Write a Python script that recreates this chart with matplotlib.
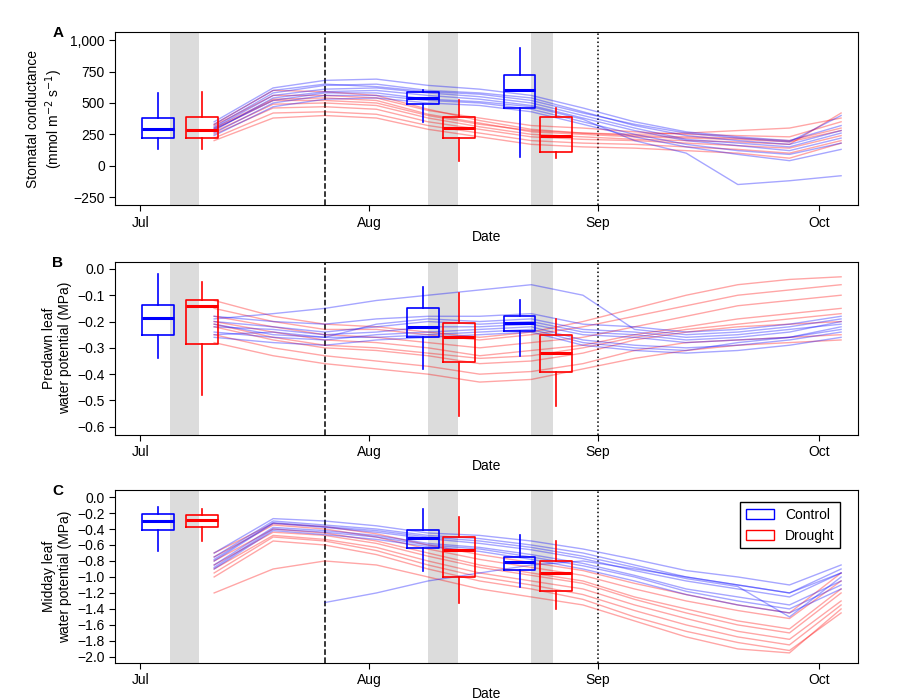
import numpy as np
import matplotlib
matplotlib.use("Agg")
import matplotlib.pyplot as plt
from matplotlib.patches import Patch

plt.rcParams['font.family'] = 'Liberation Sans'
plt.rcParams['font.size'] = 10

# days counted from Jul 1
days = [10, 18, 25, 32, 39, 46, 53, 60, 67, 74, 81, 88, 95]
month_ticks = [0, 31, 62, 92]
month_labels = ['Jul', 'Aug', 'Sep', 'Oct']
bands = [(4, 8), (39, 43), (53, 56)]
dashed_day = 25
dotted_day = 62
box_days_ctrl = [2.4, 38.3, 51.4]
box_days_drt = [8.4, 43.2, 56.3]

gs_ctrl = [
    [310, 580, 640, 650, 600, 580, 540, 430, 320, 240, 200, 170, 280],
    [280, 540, 590, 600, 560, 530, 480, 380, 280, 200, 160, 120, 220],
    [350, 620, 680, 690, 640, 610, 560, 460, 350, 270, 230, 200, 320],
    [260, 500, 560, 560, 520, 500, 450, 350, 250, 170, 120, 90, 180],
    [330, 600, 650, 630, 590, 570, 520, 420, 330, 260, 220, 190, 400],
    [240, 470, 530, 540, 500, 480, 430, 330, 230, 150, 90, 40, 130],
    [300, 560, 610, 620, 580, 550, 500, 400, 300, 210, 180, 150, 260],
    [290, 520, 580, 580, 530, 510, 470, 370, 200, 100, -150, -120, -80],
]
gs_drt = [
    [290, 520, 520, 500, 400, 330, 280, 260, 240, 230, 220, 200, 300],
    [250, 460, 470, 450, 350, 290, 230, 210, 200, 180, 160, 140, 240],
    [320, 560, 560, 540, 440, 380, 320, 300, 270, 250, 240, 230, 350],
    [220, 420, 430, 410, 320, 260, 200, 180, 170, 150, 130, 100, 200],
    [300, 530, 540, 520, 410, 340, 270, 250, 230, 220, 210, 190, 280],
    [200, 380, 400, 380, 290, 230, 170, 150, 140, 120, 100, 60, 180],
    [270, 490, 500, 480, 380, 310, 250, 230, 210, 200, 190, 170, 420],
    [330, 600, 590, 560, 450, 360, 290, 260, 250, 260, 280, 300, 380],
]
pd_ctrl = [
    [-0.20, -0.22, -0.24, -0.22, -0.20, -0.21, -0.20, -0.24, -0.25, -0.27, -0.26, -0.24, -0.20],
    [-0.24, -0.26, -0.27, -0.25, -0.24, -0.23, -0.22, -0.27, -0.29, -0.30, -0.29, -0.27, -0.24],
    [-0.18, -0.20, -0.21, -0.19, -0.18, -0.18, -0.17, -0.21, -0.22, -0.24, -0.23, -0.21, -0.18],
    [-0.26, -0.28, -0.29, -0.27, -0.26, -0.25, -0.24, -0.29, -0.31, -0.32, -0.31, -0.29, -0.26],
    [-0.22, -0.23, -0.25, -0.24, -0.22, -0.22, -0.21, -0.25, -0.26, -0.28, -0.27, -0.26, -0.22],
    [-0.21, -0.25, -0.26, -0.21, -0.19, -0.20, -0.19, -0.23, -0.24, -0.26, -0.25, -0.23, -0.21],
    [-0.25, -0.24, -0.26, -0.26, -0.25, -0.24, -0.23, -0.28, -0.30, -0.31, -0.28, -0.26, -0.23],
    [-0.19, -0.17, -0.15, -0.12, -0.10, -0.08, -0.06, -0.10, -0.23, -0.25, -0.24, -0.22, -0.19],
]
pd_drt = [
    [-0.18, -0.22, -0.25, -0.26, -0.28, -0.30, -0.28, -0.26, -0.22, -0.18, -0.14, -0.12, -0.10],
    [-0.22, -0.27, -0.30, -0.31, -0.33, -0.36, -0.35, -0.32, -0.27, -0.24, -0.22, -0.21, -0.20],
    [-0.15, -0.20, -0.23, -0.23, -0.25, -0.27, -0.25, -0.22, -0.18, -0.14, -0.10, -0.08, -0.06],
    [-0.25, -0.30, -0.33, -0.35, -0.37, -0.40, -0.39, -0.36, -0.31, -0.28, -0.27, -0.26, -0.25],
    [-0.20, -0.24, -0.27, -0.28, -0.30, -0.33, -0.31, -0.29, -0.25, -0.22, -0.19, -0.17, -0.15],
    [-0.28, -0.33, -0.36, -0.38, -0.40, -0.43, -0.42, -0.38, -0.34, -0.31, -0.29, -0.28, -0.27],
    [-0.12, -0.18, -0.21, -0.22, -0.24, -0.26, -0.24, -0.20, -0.15, -0.10, -0.06, -0.04, -0.03],
    [-0.21, -0.26, -0.29, -0.30, -0.32, -0.34, -0.33, -0.30, -0.26, -0.23, -0.21, -0.19, -0.17],
]
md_ctrl = [
    [-0.75, -0.30, -0.35, -0.40, -0.48, -0.52, -0.60, -0.70, -0.85, -1.00, -1.10, -1.20, -0.90],
    [-0.85, -0.38, -0.42, -0.48, -0.58, -0.63, -0.72, -0.83, -0.98, -1.15, -1.25, -1.35, -1.05],
    [-0.70, -0.27, -0.30, -0.36, -0.45, -0.48, -0.55, -0.65, -0.78, -0.92, -1.00, -1.10, -0.85],
    [-0.90, -0.42, -0.47, -0.53, -0.62, -0.68, -0.78, -0.90, -1.05, -1.22, -1.35, -1.45, -1.15],
    [-0.80, -0.33, -0.38, -0.44, -0.52, -0.58, -0.66, -0.77, -0.92, -1.05, -1.15, -1.25, -0.95],
    [-0.78, -0.32, -0.37, -0.42, -0.50, -0.55, -0.63, -0.74, -0.88, -1.02, -1.12, -1.50, -1.00],
    [-0.88, -0.40, -0.44, -0.50, -0.60, -0.65, -0.75, -0.86, -1.00, -1.18, -1.30, -1.40, -1.10],
    [np.nan, np.nan, -1.32, -1.20, -1.05, -0.95, -0.85, -0.80, -0.90, -1.00, -1.10, -1.20, -0.95],
]
md_drt = [
    [-0.80, -0.40, -0.45, -0.55, -0.70, -0.85, -0.95, -1.05, -1.25, -1.40, -1.55, -1.65, -1.15],
    [-0.90, -0.48, -0.53, -0.63, -0.80, -0.95, -1.05, -1.15, -1.35, -1.52, -1.68, -1.78, -1.30],
    [-0.75, -0.35, -0.40, -0.50, -0.65, -0.78, -0.88, -0.98, -1.15, -1.30, -1.42, -1.52, -1.05],
    [-1.00, -0.55, -0.60, -0.72, -0.90, -1.05, -1.15, -1.28, -1.50, -1.68, -1.82, -1.92, -1.45],
    [-0.85, -0.44, -0.48, -0.58, -0.74, -0.88, -0.98, -1.08, -1.28, -1.45, -1.60, -1.70, -1.20],
    [-1.20, -0.90, -0.80, -0.85, -1.00, -1.15, -1.25, -1.35, -1.55, -1.75, -1.90, -1.95, -1.40],
    [-0.70, -0.33, -0.37, -0.46, -0.60, -0.72, -0.82, -0.92, -1.08, -1.22, -1.35, -1.45, -0.95],
    [-0.95, -0.50, -0.55, -0.67, -0.85, -1.00, -1.10, -1.22, -1.42, -1.60, -1.75, -1.85, -1.35],
]

# box stats: (whisker low, q1, median, q3, whisker high)
gs_box_ctrl = [(130, 220, 290, 380, 580), (350, 490, 540, 590, 600), (70, 460, 600, 720, 940)]
gs_box_drt = [(130, 220, 285, 390, 590), (40, 220, 300, 390, 520), (60, 110, 240, 390, 460)]
pd_box_ctrl = [(-0.34, -0.25, -0.186, -0.137, -0.02), (-0.38, -0.26, -0.22, -0.15, -0.07), (-0.33, -0.235, -0.205, -0.18, -0.12)]
pd_box_drt = [(-0.48, -0.285, -0.141, -0.118, -0.05), (-0.56, -0.354, -0.26, -0.205, -0.09), (-0.52, -0.39, -0.32, -0.25, -0.19)]
md_box_ctrl = [(-0.67, -0.41, -0.30, -0.21, -0.12), (-0.92, -0.64, -0.51, -0.41, -0.15), (-1.13, -0.91, -0.81, -0.75, -0.47)]
md_box_drt = [(-0.55, -0.38, -0.29, -0.23, -0.15), (-1.32, -1.0, -0.66, -0.5, -0.25), (-1.4, -1.18, -0.95, -0.8, -0.55)]

panels = [
    dict(letter='A', ctrl=gs_ctrl, drt=gs_drt, bc=gs_box_ctrl, bd=gs_box_drt,
         ylabel='Stomatal conductance\n(mmol m$^{-2}$ s$^{-1}$)', ylim=(-314, 1064),
         yticks=[-250, 0, 250, 500, 750, 1000],
         ytl=['\u2212250', '0', '250', '500', '750', '1,000'], pos=[0.127, 0.707, 0.818, 0.247]),
    dict(letter='B', ctrl=pd_ctrl, drt=pd_drt, bc=pd_box_ctrl, bd=pd_box_drt,
         ylabel='Predawn leaf\nwater potential (MPa)', ylim=(-0.63, 0.027),
         yticks=[0, -0.1, -0.2, -0.3, -0.4, -0.5, -0.6],
         ytl=['0.0', '\u22120.1', '\u22120.2', '\u22120.3', '\u22120.4', '\u22120.5', '\u22120.6'],
         pos=[0.127, 0.379, 0.818, 0.247]),
    dict(letter='C', ctrl=md_ctrl, drt=md_drt, bc=md_box_ctrl, bd=md_box_drt,
         ylabel='Midday leaf\nwater potential (MPa)', ylim=(-2.075, 0.088),
         yticks=[0, -0.2, -0.4, -0.6, -0.8, -1.0, -1.2, -1.4, -1.6, -1.8, -2.0],
         ytl=['0.0'] + ['\u2212%.1f' % v for v in [0.2, 0.4, 0.6, 0.8, 1.0, 1.2, 1.4, 1.6, 1.8, 2.0]],
         pos=[0.127, 0.053, 0.818, 0.247]),
]

BLUE = '#0000ff'
RED = '#ff0000'

def boxes(ax, stats, xs, color):
    bx = [dict(whislo=s[0], q1=s[1], med=s[2], q3=s[3], whishi=s[4], fliers=[]) for s in stats]
    ax.bxp(bx, positions=xs, widths=4.3, showcaps=False, manage_ticks=False,
           boxprops=dict(color=color, lw=1.2), whiskerprops=dict(color=color, lw=1.2, ls='-'),
           medianprops=dict(color=color, lw=2.2), zorder=4)

fig = plt.figure(figsize=(9.08, 7.0), dpi=100)
for p in panels:
    ax = fig.add_axes(p['pos'])
    for a, b in bands:
        ax.axvspan(a, b, color='#dcdcdc', lw=0, zorder=0)
    ax.axvline(dashed_day, color='k', ls='--', lw=1.1, zorder=1)
    ax.axvline(dotted_day, color='k', ls=':', lw=1.1, zorder=1)
    for ln in p['drt']:
        ax.plot(days, ln, color=RED, alpha=0.35, lw=1, zorder=2)
    for ln in p['ctrl']:
        ax.plot(days, ln, color=BLUE, alpha=0.35, lw=1, zorder=2)
    boxes(ax, p['bc'], box_days_ctrl, BLUE)
    boxes(ax, p['bd'], box_days_drt, RED)
    ax.set_xlim(-3.4, 97.3)
    ax.set_ylim(*p['ylim'])
    ax.set_yticks(p['yticks'])
    ax.set_yticklabels(p['ytl'])
    ax.set_xticks(month_ticks)
    ax.set_xticklabels(month_labels)
    ax.set_xlabel('Date', labelpad=0)
    ax.set_ylabel(p['ylabel'])
    ax.tick_params(direction='out', length=4)
    ax.text(-0.085, 0.97, p['letter'], transform=ax.transAxes, fontweight='bold', fontsize=11)
    if p['letter'] == 'C':
        handles = [Patch(facecolor='none', edgecolor=BLUE, label='Control'),
                   Patch(facecolor='none', edgecolor=RED, label='Drought')]
        ax.legend(handles=handles, loc='upper right', bbox_to_anchor=(0.985, 0.97),
                  fancybox=False, edgecolor='k', framealpha=1, fontsize=10)

fig.savefig('out.png', dpi=100)
